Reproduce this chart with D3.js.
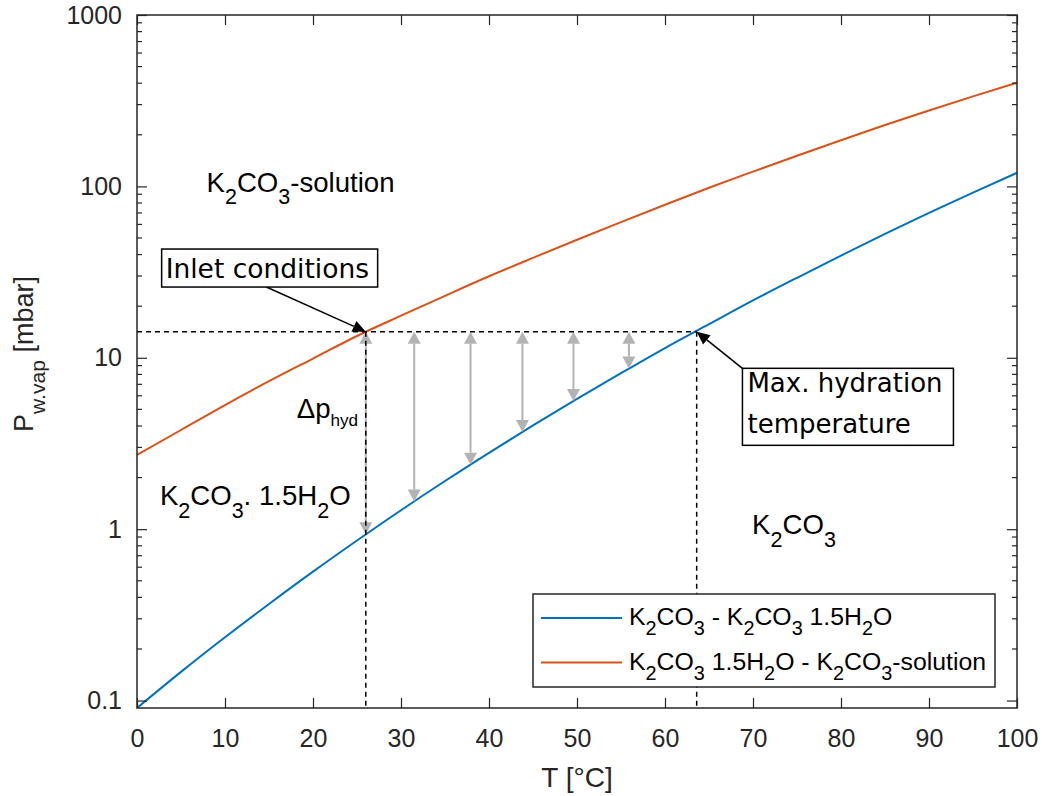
<!DOCTYPE html>
<html>
<head>
<meta charset="utf-8">
<script src="https://cdn.jsdelivr.net/npm/d3@7"></script>
<style>
  body { margin: 0; background: #fff; }
  svg { display: block; }
</style>
</head>
<body>
<div id="chart"></div>
<script>
// values (T in degC, p in mbar)
const temps = [0, 5, 10, 15, 20, 25, 30, 35, 40, 45, 50, 55, 60, 65, 70, 75, 80, 85, 90, 95, 100];
const hydrateP = [0.0905, 0.147, 0.234, 0.366, 0.565, 0.859, 1.29, 1.91, 2.79, 4.03, 5.75, 8.13, 11.4, 15.7, 21.6, 29.3, 39.5, 52.8, 70.0, 92.0, 120];
const solutionP = [2.71, 3.79, 5.3, 7.3, 9.9, 13.4, 17.6, 23.0, 29.9, 38.3, 48.8, 61.9, 78.2, 98.2, 122, 151, 186, 228, 277, 335, 403];

const xTickVals = [0, 10, 20, 30, 40, 50, 60, 70, 80, 90, 100];
const yTickVals = [0.1, 1, 10, 100, 1000];

const seriesNames = ["K_2CO_3 - K_2CO_3 1.5H_2O", "K_2CO_3 1.5H_2O - K_2CO_3-solution"];
const seriesColors = ["#0072BD", "#D95319"];

// hydration driving force arrows
const arrowTemps = [26, 31.5, 37.9, 43.8, 49.6, 55.9];
const arrowLowP = [0.933, 1.45, 2.38, 3.69, 5.60, 8.65];

const inletT = 26, inletP = 14.2, maxHydT = 63.6;

const regionLabels = [
  { text: "K_2CO_3-solution", T: 7.9, p: 93 },
  { text: "K_2CO_3. 1.5H_2O", T: 2.6, p: 1.38 },
  { text: "K_2CO_3", T: 69.9, p: 0.933 }
];

const W = 1042, H = 796;
const margin = { top: 15, right: 25, bottom: 88, left: 137 },
      width = W - margin.left - margin.right,
      height = H - margin.top - margin.bottom;

const axisColor = "#262626";
const sansFont = "'Liberation Sans', Arial, Helvetica, sans-serif";
const boxFont = "'DejaVu Sans', Verdana, sans-serif";

const svg = d3.select("#chart").append("svg")
    .attr("width", W)
    .attr("height", H)
    .style("background", "#fff");

const g = svg.append("g")
    .attr("transform", "translate(" + margin.left + "," + margin.top + ")");

const x = d3.scaleLinear().domain([0, 100]).range([0, width]);
const y = d3.scaleLog().domain([d3.min(hydrateP), 1000]).range([height, 0]);

// writes a string with _x or _{xy} subscripts as tspans
function texText(sel, str, size, subScale, subDrop) {
  const re = /_(?:\{([^}]*)\}|(.))/g;
  const tokens = [];
  let last = 0, m;
  while ((m = re.exec(str))) {
    if (m.index > last) tokens.push({ t: str.slice(last, m.index), sub: false });
    tokens.push({ t: m[1] !== undefined ? m[1] : m[2], sub: true });
    last = re.lastIndex;
  }
  if (last < str.length) tokens.push({ t: str.slice(last), sub: false });
  let shift = 0;
  tokens.forEach(tok => {
    const target = tok.sub ? size * subDrop : 0;
    sel.append("tspan")
      .attr("dy", target - shift)
      .attr("font-size", tok.sub ? size * subScale : size)
      .text(tok.t);
    shift = target;
  });
  return sel;
}

function arrowHead(sel, x1, y1, x2, y2, len, wid, color) {
  const a = Math.atan2(y2 - y1, x2 - x1);
  const bx = x2 - len * Math.cos(a), by = y2 - len * Math.sin(a);
  const px = -Math.sin(a) * wid / 2, py = Math.cos(a) * wid / 2;
  sel.append("path")
    .attr("d", "M" + x2 + "," + y2 + "L" + (bx + px) + "," + (by + py) + "L" + (bx - px) + "," + (by - py) + "Z")
    .attr("fill", color);
  return [bx, by];
}

g.append("clipPath").attr("id", "plot-clip")
  .append("rect").attr("width", width).attr("height", height);

// curves
const line = d3.line()
    .x((d, i) => x(temps[i]))
    .y(d => y(d))
    .curve(d3.curveMonotoneX);

[hydrateP, solutionP].forEach((series, i) => {
  g.append("path")
    .datum(series)
    .attr("clip-path", "url(#plot-clip)")
    .attr("fill", "none")
    .attr("stroke", seriesColors[i])
    .attr("stroke-width", 2)
    .attr("d", line);
});

// gray double arrows
const gray = "#b3b3b3";
arrowTemps.forEach((t, i) => {
  const ax = x(t), yTop = y(inletP), yBot = y(arrowLowP[i]);
  const a1 = arrowHead(g, ax, yBot, ax, yTop, 12, 13, gray);
  const a2 = arrowHead(g, ax, yTop, ax, yBot, 12, 13, gray);
  g.append("line")
    .attr("x1", ax).attr("x2", ax)
    .attr("y1", a1[1]).attr("y2", a2[1])
    .attr("stroke", gray)
    .attr("stroke-width", 2);
});

// dashed guide lines
const dash = "5,4";
g.append("line")
  .attr("x1", 0).attr("x2", x(maxHydT))
  .attr("y1", y(inletP)).attr("y2", y(inletP))
  .attr("stroke", "#000").attr("stroke-width", 1.5).attr("stroke-dasharray", dash);
[inletT, maxHydT].forEach(t => {
  g.append("line")
    .attr("x1", x(t)).attr("x2", x(t))
    .attr("y1", y(inletP)).attr("y2", height)
    .attr("stroke", "#000").attr("stroke-width", 1.5).attr("stroke-dasharray", dash);
});

// axes
function styleAxis(sel) {
  sel.attr("font-family", sansFont).attr("font-size", 25);
  sel.select(".domain").attr("stroke", "none");
  sel.selectAll(".tick line").attr("stroke", axisColor).attr("stroke-width", 1.2);
  sel.selectAll(".tick text").attr("fill", axisColor);
}

g.append("g")
  .attr("transform", "translate(0," + height + ")")
  .call(d3.axisBottom(x).tickValues(xTickVals).tickSizeInner(-10).tickSizeOuter(0).tickPadding(21))
  .call(styleAxis);

g.append("g")
  .call(d3.axisTop(x).tickValues(xTickVals).tickSizeInner(-10).tickSizeOuter(0).tickFormat(""))
  .call(styleAxis);

g.append("g")
  .call(d3.axisLeft(y).tickValues(yTickVals).tickSizeInner(-10).tickSizeOuter(0).tickPadding(15)
        .tickFormat(d => String(d)))
  .call(styleAxis);

g.append("g")
  .attr("transform", "translate(" + width + ",0)")
  .call(d3.axisRight(y).tickValues(yTickVals).tickSizeInner(-10).tickSizeOuter(0).tickFormat(""))
  .call(styleAxis);

// minor log ticks
const minorVals = [];
[0.01, 0.1, 1, 10, 100].forEach(dec => {
  for (let k = 2; k <= 9; k++) minorVals.push(dec * k);
});
const minorIn = minorVals.filter(v => v >= y.domain()[0] && v <= y.domain()[1]);
minorIn.forEach(v => {
  [[0, 5], [width, width - 5]].forEach(([a, b]) => {
    g.append("line")
      .attr("x1", a).attr("x2", b)
      .attr("y1", y(v)).attr("y2", y(v))
      .attr("stroke", axisColor).attr("stroke-width", 1.2);
  });
});

// axes box
g.append("rect")
  .attr("width", width).attr("height", height)
  .attr("fill", "none")
  .attr("stroke", axisColor)
  .attr("stroke-width", 1.5);

// axis labels
svg.append("text")
  .attr("x", margin.left + width / 2)
  .attr("y", 787)
  .attr("text-anchor", "middle")
  .attr("font-family", sansFont)
  .attr("font-size", 28)
  .attr("fill", axisColor)
  .style("white-space", "pre")
  .text("T [°C]");

texText(svg.append("text")
    .attr("transform", "translate(33,354) rotate(-90)")
    .attr("text-anchor", "middle")
    .attr("font-family", sansFont)
    .attr("fill", axisColor)
    .style("white-space", "pre"),
  "P_{w.vap} [mbar]", 27, 0.78, 0.45);

// region labels
regionLabels.forEach(r => {
  texText(g.append("text")
      .attr("x", x(r.T))
      .attr("y", y(r.p))
      .attr("font-family", sansFont)
      .attr("fill", "#000")
      .style("white-space", "pre"),
    r.text, 27.6, 0.78, 0.45);
});

texText(g.append("text")
    .attr("x", x(18.15))
    .attr("y", y(4.43))
    .attr("font-family", sansFont)
    .attr("fill", "#000")
    .style("white-space", "pre"),
  "\u0394p_{hyd}", 27.6, 0.62, 0.26);

// "Inlet conditions" callout
const inletBox = { T: 2.8, p: 43.1, w: 216, h: 38 };
const ibx = x(inletBox.T), iby = y(inletBox.p);
{
  const a = arrowHead(g, x(14.7), iby + inletBox.h, x(inletT), y(inletP), 13, 12, "#000");
  g.append("line")
    .attr("x1", x(14.7)).attr("y1", iby + inletBox.h)
    .attr("x2", a[0]).attr("y2", a[1])
    .attr("stroke", "#000").attr("stroke-width", 1.5);
}
g.append("rect")
  .attr("x", ibx).attr("y", iby)
  .attr("width", inletBox.w).attr("height", inletBox.h)
  .attr("fill", "#fff").attr("stroke", "#000").attr("stroke-width", 1.5);
g.append("text")
  .attr("x", ibx + 4).attr("y", iby + 29)
  .attr("font-family", boxFont).attr("font-size", 26.5)
  .attr("fill", "#000")
  .text("Inlet conditions");

// "Max. hydration temperature" callout
const maxBox = { T: 68.8, p: 8.68, w: 211, h: 77 };
const mbx = x(maxBox.T), mby = y(maxBox.p);
{
  const a = arrowHead(g, mbx, mby, x(maxHydT), y(inletP), 13, 12, "#000");
  g.append("line")
    .attr("x1", mbx).attr("y1", mby)
    .attr("x2", a[0]).attr("y2", a[1])
    .attr("stroke", "#000").attr("stroke-width", 1.5);
}
g.append("rect")
  .attr("x", mbx).attr("y", mby)
  .attr("width", maxBox.w).attr("height", maxBox.h)
  .attr("fill", "#fff").attr("stroke", "#000").attr("stroke-width", 1.5);
["Max. hydration", "temperature"].forEach((s, i) => {
  g.append("text")
    .attr("x", mbx + 5).attr("y", mby + 24 + i * 40.5)
    .attr("font-family", boxFont).attr("font-size", 26)
    .attr("fill", "#000")
    .text(s);
});

// legend
const legW = 462, legH = 93;
const legend = g.append("g")
    .attr("transform", "translate(" + (width - 22 - legW) + "," + (height - 21 - legH) + ")");
legend.append("rect")
  .attr("width", legW).attr("height", legH)
  .attr("fill", "#fff").attr("stroke", axisColor).attr("stroke-width", 1.5);
seriesNames.forEach((name, i) => {
  const ly = 24 + i * 44.5;
  legend.append("line")
    .attr("x1", 8).attr("x2", 89)
    .attr("y1", ly).attr("y2", ly)
    .attr("stroke", seriesColors[i]).attr("stroke-width", 2);
  texText(legend.append("text")
      .attr("x", 96).attr("y", ly + 7)
      .attr("font-family", sansFont)
      .attr("fill", "#000")
      .style("white-space", "pre"),
    name, 24.8, 0.8, 0.42);
});
</script>
</body>
</html>
